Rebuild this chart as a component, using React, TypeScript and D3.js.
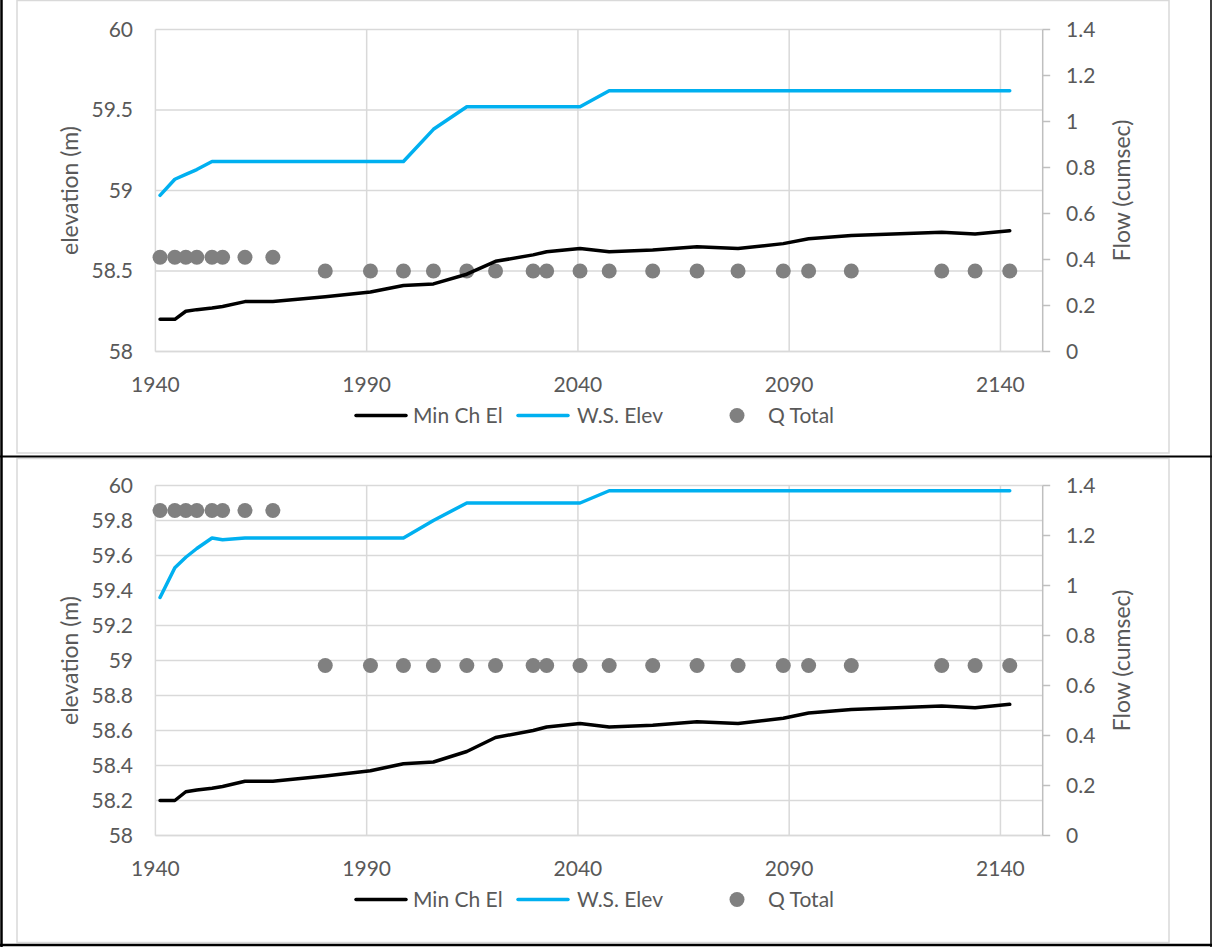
import React from "react";
import * as d3 from "d3";

// ---- data ----
const stations = [1941.1, 1944.6, 1947.2, 1949.8, 1953.4, 1955.9, 1961.2, 1967.8, 1980.2, 1990.9, 1998.7, 2005.8, 2013.7, 2020.5, 2029.4, 2032.6, 2040.5, 2047.4, 2057.7, 2068.2, 2077.9, 2088.6, 2094.6, 2104.7, 2126.1, 2134.0, 2142.2];
const minChEl = [58.20, 58.20, 58.25, 58.26, 58.27, 58.28, 58.31, 58.31, 58.34, 58.37, 58.41, 58.42, 58.48, 58.56, 58.60, 58.62, 58.64, 58.62, 58.63, 58.65, 58.64, 58.67, 58.70, 58.72, 58.74, 58.73, 58.75];
const wsElevTop = [58.97, 59.07, 59.10, 59.13, 59.18, 59.18, 59.18, 59.18, 59.18, 59.18, 59.18, 59.38, 59.52, 59.52, 59.52, 59.52, 59.52, 59.62, 59.62, 59.62, 59.62, 59.62, 59.62, 59.62, 59.62, 59.62, 59.62];
const wsElevBottom = [59.36, 59.53, 59.59, 59.64, 59.70, 59.69, 59.70, 59.70, 59.70, 59.70, 59.70, 59.80, 59.90, 59.90, 59.90, 59.90, 59.90, 59.97, 59.97, 59.97, 59.97, 59.97, 59.97, 59.97, 59.97, 59.97, 59.97];
const qTotalTop = [0.41, 0.41, 0.41, 0.41, 0.41, 0.41, 0.41, 0.41, 0.35, 0.35, 0.35, 0.35, 0.35, 0.35, 0.35, 0.35, 0.35, 0.35, 0.35, 0.35, 0.35, 0.35, 0.35, 0.35, 0.35, 0.35, 0.35];
const qTotalBottom = [1.30, 1.30, 1.30, 1.30, 1.30, 1.30, 1.30, 1.30, 0.68, 0.68, 0.68, 0.68, 0.68, 0.68, 0.68, 0.68, 0.68, 0.68, 0.68, 0.68, 0.68, 0.68, 0.68, 0.68, 0.68, 0.68, 0.68];
const xTicks = [1940, 1990, 2040, 2090, 2140];
const yTicksTop = [58, 58.5, 59, 59.5, 60];
const yTicksBottom = [58, 58.2, 58.4, 58.6, 58.8, 59, 59.2, 59.4, 59.6, 59.8, 60];
const flowTicks = [0, 0.2, 0.4, 0.6, 0.8, 1, 1.2, 1.4];
const legendLabels = ["Min Ch El", "W.S. Elev", "Q Total"];

const FONT = "Lato, 'Open Sans', sans-serif";
const TEXT = "#595959";
const GRID = "#D9D9D9";
const BLUE = "#00B0F0";
const DOT = "#808080";
const FS = 21;

type ChartProps = {
  box: [number, number, number, number];
  plotTop: number;
  plotBottom: number;
  ws: number[];
  q: number[];
  yTicks: number[];
};

function Chart({ box, plotTop, plotBottom, ws, q, yTicks }: ChartProps) {
  const plotLeft = 155.4;
  const plotRight = 1042.7;
  const x = d3.scaleLinear().domain([1940, 2150]).range([plotLeft, plotRight]);
  const y = d3.scaleLinear().domain([58, 60]).range([plotBottom, plotTop]);
  const y2 = d3.scaleLinear().domain([0, 1.4]).range([plotBottom, plotTop]);
  const line = d3
    .line<number>()
    .x((_, i) => x(stations[i]))
    .y((d) => y(d));
  const midY = (plotTop + plotBottom) / 2;
  const legY = plotBottom + 64;
  const [bx, by, bw, bh] = box;
  return (
    <g>
      <rect x={bx} y={by} width={bw} height={bh} fill="#fff" stroke={GRID} strokeWidth={1.5} />
      {/* grid */}
      {yTicks.map((t) => (
        <line key={"gy" + t} x1={plotLeft} x2={plotRight} y1={y(t)} y2={y(t)} stroke={GRID} strokeWidth={1.5} />
      ))}
      {xTicks.map((t) => (
        <line key={"gx" + t} x1={x(t)} x2={x(t)} y1={plotTop} y2={plotBottom} stroke={GRID} strokeWidth={1.5} />
      ))}
      {/* axes */}
      <line x1={plotLeft} x2={plotRight} y1={plotBottom} y2={plotBottom} stroke={GRID} strokeWidth={1.5} />
      <line x1={plotRight} x2={plotRight} y1={plotTop} y2={plotBottom} stroke="#BFBFBF" strokeWidth={1.5} />
      {flowTicks.map((t) => (
        <line key={"ft" + t} x1={plotRight} x2={plotRight + 7.5} y1={y2(t)} y2={y2(t)} stroke="#BFBFBF" strokeWidth={1.5} />
      ))}
      {/* tick labels */}
      {yTicks.map((t) => (
        <text key={"ly" + t} x={133} y={y(t)} dy="0.35em" textAnchor="end" fontSize={FS} fill={TEXT} fontFamily={FONT}>
          {String(t)}
        </text>
      ))}
      {flowTicks.map((t) => (
        <text key={"lf" + t} x={1066} y={y2(t)} dy="0.35em" textAnchor="start" fontSize={FS} fill={TEXT} fontFamily={FONT}>
          {String(t)}
        </text>
      ))}
      {xTicks.map((t) => (
        <text key={"lx" + t} x={x(t)} y={plotBottom + 40} textAnchor="middle" fontSize={FS} fill={TEXT} fontFamily={FONT}>
          {t}
        </text>
      ))}
      {/* axis titles */}
      <text transform={`translate(78,${midY}) rotate(-90)`} textAnchor="middle" fontSize={23} fill={TEXT} fontFamily={FONT}>
        elevation (m)
      </text>
      <text transform={`translate(1130,${midY}) rotate(-90)`} textAnchor="middle" fontSize={23} fill={TEXT} fontFamily={FONT}>
        Flow (cumsec)
      </text>
      {/* Q dots */}
      {q.map((v, i) => (
        <circle key={"q" + i} cx={x(stations[i])} cy={y2(v)} r={7.5} fill={DOT} />
      ))}
      {/* lines */}
      <path d={line(minChEl) || ""} fill="none" stroke="#000" strokeWidth={3.5} strokeLinejoin="round" strokeLinecap="round" />
      <path d={line(ws) || ""} fill="none" stroke={BLUE} strokeWidth={3.5} strokeLinejoin="round" strokeLinecap="round" />
      {/* legend */}
      <line x1={356} x2={406} y1={legY} y2={legY} stroke="#000" strokeWidth={3.5} strokeLinecap="round" />
      <text x={413} y={legY} dy="0.35em" fontSize={FS} fill={TEXT} fontFamily={FONT}>{legendLabels[0]}</text>
      <line x1={518} x2={568} y1={legY} y2={legY} stroke={BLUE} strokeWidth={3.5} strokeLinecap="round" />
      <text x={577} y={legY} dy="0.35em" fontSize={FS} fill={TEXT} fontFamily={FONT}>{legendLabels[1]}</text>
      <circle cx={737} cy={legY} r={7.5} fill={DOT} />
      <text x={768} y={legY} dy="0.35em" fontSize={FS} fill={TEXT} fontFamily={FONT}>{legendLabels[2]}</text>
    </g>
  );
}

export default function App() {
  return (
    <svg width={1212} height={947} style={{ position: "absolute", left: 0, top: 0, background: "#fff" }}>
      <rect x={0} y={0} width={1212} height={947} fill="#fff" />
      <Chart box={[17, 0.5, 1152, 452.5]} plotTop={29.5} plotBottom={351.5} ws={wsElevTop} q={qTotalTop} yTicks={yTicksTop} />
      <Chart box={[17, 458.5, 1152, 484]} plotTop={485.5} plotBottom={835.5} ws={wsElevBottom} q={qTotalBottom} yTicks={yTicksBottom} />
      {/* table borders */}
      <line x1={1.5} x2={1.5} y1={0} y2={947} stroke="#000" strokeWidth={2.5} />
      <line x1={0} x2={1212} y1={456.5} y2={456.5} stroke="#000" strokeWidth={2} />
      <line x1={0} x2={1212} y1={945} y2={945} stroke="#000" strokeWidth={2.5} />
      <line x1={1211} x2={1211} y1={0} y2={947} stroke="#000" strokeWidth={1.5} />
    </svg>
  );
}
